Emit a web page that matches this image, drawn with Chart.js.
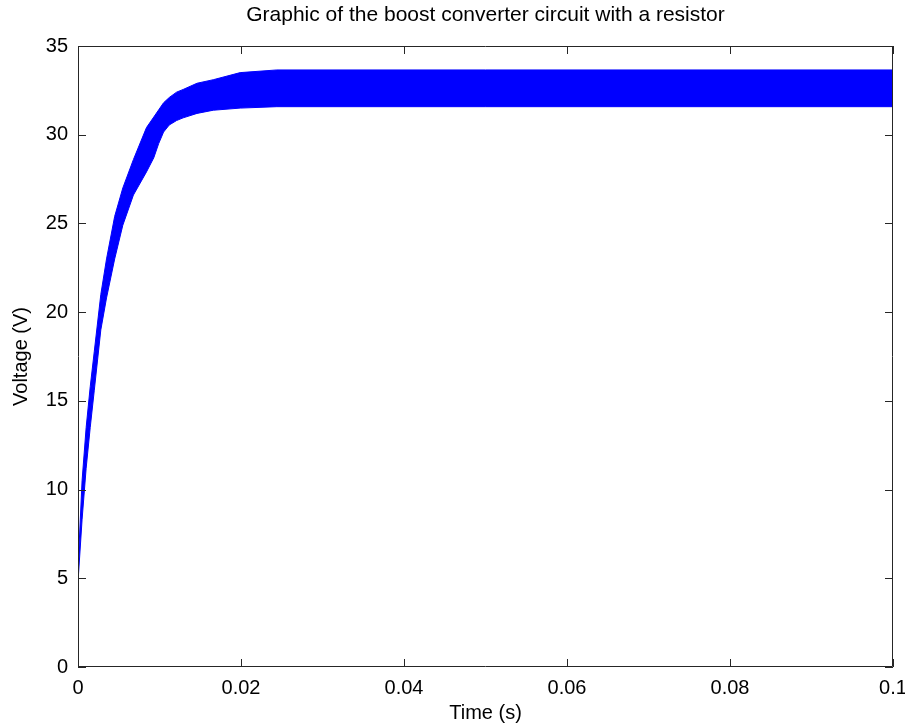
<!DOCTYPE html>
<html>
<head>
<meta charset="utf-8">
<title>Boost converter</title>
<script src="https://cdn.jsdelivr.net/npm/chart.js@4.4.0/dist/chart.umd.min.js"></script>
<style>
  body { margin: 0; background: #fff; }
  canvas { display: block; }
</style>
</head>
<body>
<canvas id="boostChart" width="905" height="726"></canvas>
<script>
// envelope of the ripple band
const timeData  = [0, 0.0005, 0.001, 0.0015, 0.002, 0.0028, 0.0035, 0.0045, 0.0055, 0.0068, 0.0084, 0.0093, 0.0099, 0.0105, 0.0112, 0.0121, 0.0129, 0.0146, 0.0166, 0.0199, 0.0244, 0.05, 0.1];
const upperData = [5.5, 10.5, 13.5, 15.8, 17.8, 21.0, 23.0, 25.4, 27.0, 28.6, 30.4, 31.0, 31.4, 31.8, 32.1, 32.4, 32.55, 32.9, 33.1, 33.5, 33.65, 33.65, 33.65];
const lowerData = [4.8, 8.3, 11.2, 13.5, 15.6, 19.0, 20.8, 23.0, 24.9, 26.6, 27.9, 28.7, 29.5, 30.15, 30.55, 30.8, 30.95, 31.2, 31.38, 31.5, 31.58, 31.58, 31.58];

const xTickLabels = ["0", "0.02", "0.04", "0.06", "0.08", "0.1"];
const yTickLabels = ["0", "5", "10", "15", "20", "25", "30", "35"];

const chartTitle = "Graphic of the boost converter circuit with a resistor";
const fontFam = "'Liberation Sans', Arial, sans-serif";

// matlab style box with inward ticks + title over the plot area
const matlabFrame = {
  id: 'matlabFrame',
  afterDatasetsDraw(chart) {
    const { ctx, chartArea: a, scales } = chart;
    const tl = 8;
    ctx.save();
    ctx.strokeStyle = '#262626';
    ctx.lineWidth = 1;
    ctx.beginPath();
    ctx.rect(a.left + 0.5, a.top + 0.5, a.right - a.left - 1, a.bottom - a.top - 1);
    scales.x.ticks.forEach(t => {
      const px = Math.round(scales.x.getPixelForValue(t.value)) + 0.5;
      ctx.moveTo(px, a.bottom); ctx.lineTo(px, a.bottom - tl);
      ctx.moveTo(px, a.top); ctx.lineTo(px, a.top + tl);
    });
    scales.y.ticks.forEach(t => {
      const py = Math.round(scales.y.getPixelForValue(t.value)) + 0.5;
      ctx.moveTo(a.left, py); ctx.lineTo(a.left + tl, py);
      ctx.moveTo(a.right, py); ctx.lineTo(a.right - tl, py);
    });
    ctx.stroke();

    ctx.fillStyle = '#000';
    ctx.font = "21px " + fontFam;
    ctx.textAlign = 'center';
    ctx.textBaseline = 'middle';
    ctx.fillText(chartTitle, (a.left + a.right) / 2, 15);
    ctx.restore();
  }
};

new Chart(document.getElementById("boostChart"), {
  type: 'line',
  data: {
    datasets: [
      {
        label: "upper",
        data: timeData.map((t, i) => ({ x: t, y: upperData[i] })),
        borderColor: "#0000ff",
        backgroundColor: "#0000ff",
        borderWidth: 1,
        pointRadius: 0,
        tension: 0,
        fill: '+1'
      }, {
        label: "lower",
        data: timeData.map((t, i) => ({ x: t, y: lowerData[i] })),
        borderColor: "#0000ff",
        borderWidth: 1,
        pointRadius: 0,
        tension: 0,
        fill: false
      }
    ]
  },
  options: {
    responsive: false,
    animation: false,
    layout: { padding: { top: 46, right: 12, left: 0, bottom: 0 } },
    plugins: {
      legend: { display: false },
      title: { display: false },
      tooltip: { enabled: false }
    },
    scales: {
      x: {
        type: 'linear',
        min: 0,
        max: 0.1,
        afterFit: s => { s.height = 59; s.paddingRight = 0; s.paddingLeft = 0; },
        afterBuildTicks: s => { s.ticks = xTickLabels.map(v => ({ value: parseFloat(v) })); },
        grid: { display: false, drawTicks: false },
        border: { display: false },
        ticks: {
          padding: 9,
          color: '#000',
          font: { family: fontFam, size: 20 },
          callback: (v, i) => xTickLabels[i]
        },
        title: {
          display: true,
          text: 'Time (s)',
          color: '#000',
          font: { family: fontFam, size: 20 },
          padding: { top: 0, bottom: 1 }
        }
      },
      y: {
        min: 0,
        max: 35,
        afterFit: s => { s.width = 78; s.paddingTop = 0; s.paddingBottom = 0; },
        afterBuildTicks: s => { s.ticks = yTickLabels.map(v => ({ value: parseFloat(v) })); },
        grid: { display: false, drawTicks: false },
        border: { display: false },
        ticks: {
          padding: 10,
          color: '#000',
          font: { family: fontFam, size: 20 },
          callback: (v, i) => yTickLabels[i]
        },
        title: {
          display: true,
          text: 'Voltage (V)',
          color: '#000',
          font: { family: fontFam, size: 20 },
          padding: { top: 9, bottom: 0 }
        }
      }
    }
  },
  plugins: [matlabFrame]
});
</script>
</body>
</html>
